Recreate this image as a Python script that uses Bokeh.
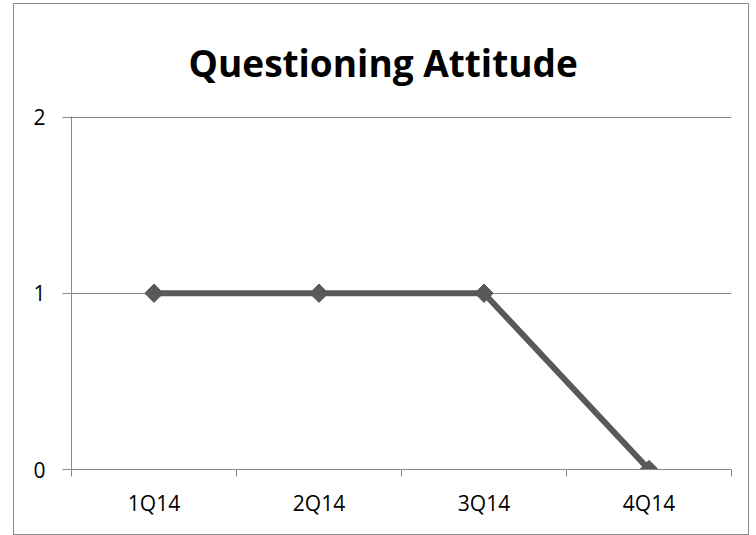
import math
from bokeh.plotting import figure
from bokeh.models import FixedTicker, Range1d, ColumnDataSource
from bokeh.embed import file_html
from bokeh.resources import INLINE

# Data
quarters = ["1Q14", "2Q14", "3Q14", "4Q14"]
values = [1, 1, 1, 0]
y_ticks = [0, 1, 2]

x_pos = [i + 0.5 for i in range(len(quarters))]
src = ColumnDataSource(dict(x=x_pos, y=values))

W, H = 736, 532
p = figure(width=W, height=H, output_backend="svg", toolbar_location=None,
           x_range=Range1d(0, len(quarters)), y_range=Range1d(0, 2.003),
           min_border_left=57, min_border_right=19, min_border_top=112, min_border_bottom=67)

p.styles = {"border": "1px solid #8a8a8a", "margin-left": "13px", "margin-top": "3px"}

p.title.text = "Questioning Attitude"
p.title.align = "left"
p.title.offset = 117
p.title.text_font = "Open Sans"
p.title.text_font_style = "bold"
p.title.text_font_size = "37px"
p.title.text_color = "#000000"
p.title.standoff = 58

p.outline_line_color = None
p.background_fill_color = "white"
p.border_fill_color = "white"

grid_col = "#8a8a8a"
label_font = "Open Sans"

# X axis
xt = FixedTicker(ticks=x_pos, minor_ticks=list(range(len(quarters) + 1)))
p.xaxis.ticker = xt
p.xaxis.major_label_overrides = {x: q for x, q in zip(x_pos, quarters)}
p.xaxis.major_tick_out = 0
p.xaxis.major_tick_in = 0
p.xaxis.minor_tick_out = 7
p.xaxis.minor_tick_in = 0
p.xaxis.minor_tick_line_color = grid_col
p.xaxis.axis_line_color = grid_col
p.xaxis.major_label_text_font = label_font
p.xaxis.major_label_text_font_size = "21px"
p.xaxis.major_label_text_color = "#000000"
p.xaxis.major_label_standoff = 12

p.xgrid.visible = False

# Y axis
p.yaxis.ticker = FixedTicker(ticks=y_ticks)
p.yaxis.major_tick_out = 9
p.yaxis.major_tick_in = 0
p.yaxis.minor_tick_line_color = None
p.yaxis.major_tick_line_color = grid_col
p.yaxis.axis_line_color = grid_col
p.yaxis.major_label_text_font = label_font
p.yaxis.major_label_text_font_size = "21px"
p.yaxis.major_label_text_color = "#000000"
p.yaxis.major_label_standoff = 17
p.ygrid.grid_line_color = grid_col
p.ygrid.grid_line_width = 1

line_col = "#595959"
p.line("x", "y", source=src, line_color=line_col, line_width=6)
p.scatter("x", "y", source=src, marker="square", angle=math.pi / 4, size=13,
          fill_color=line_col, line_color=line_col)

open("out.html", "w").write(file_html(p, INLINE))
